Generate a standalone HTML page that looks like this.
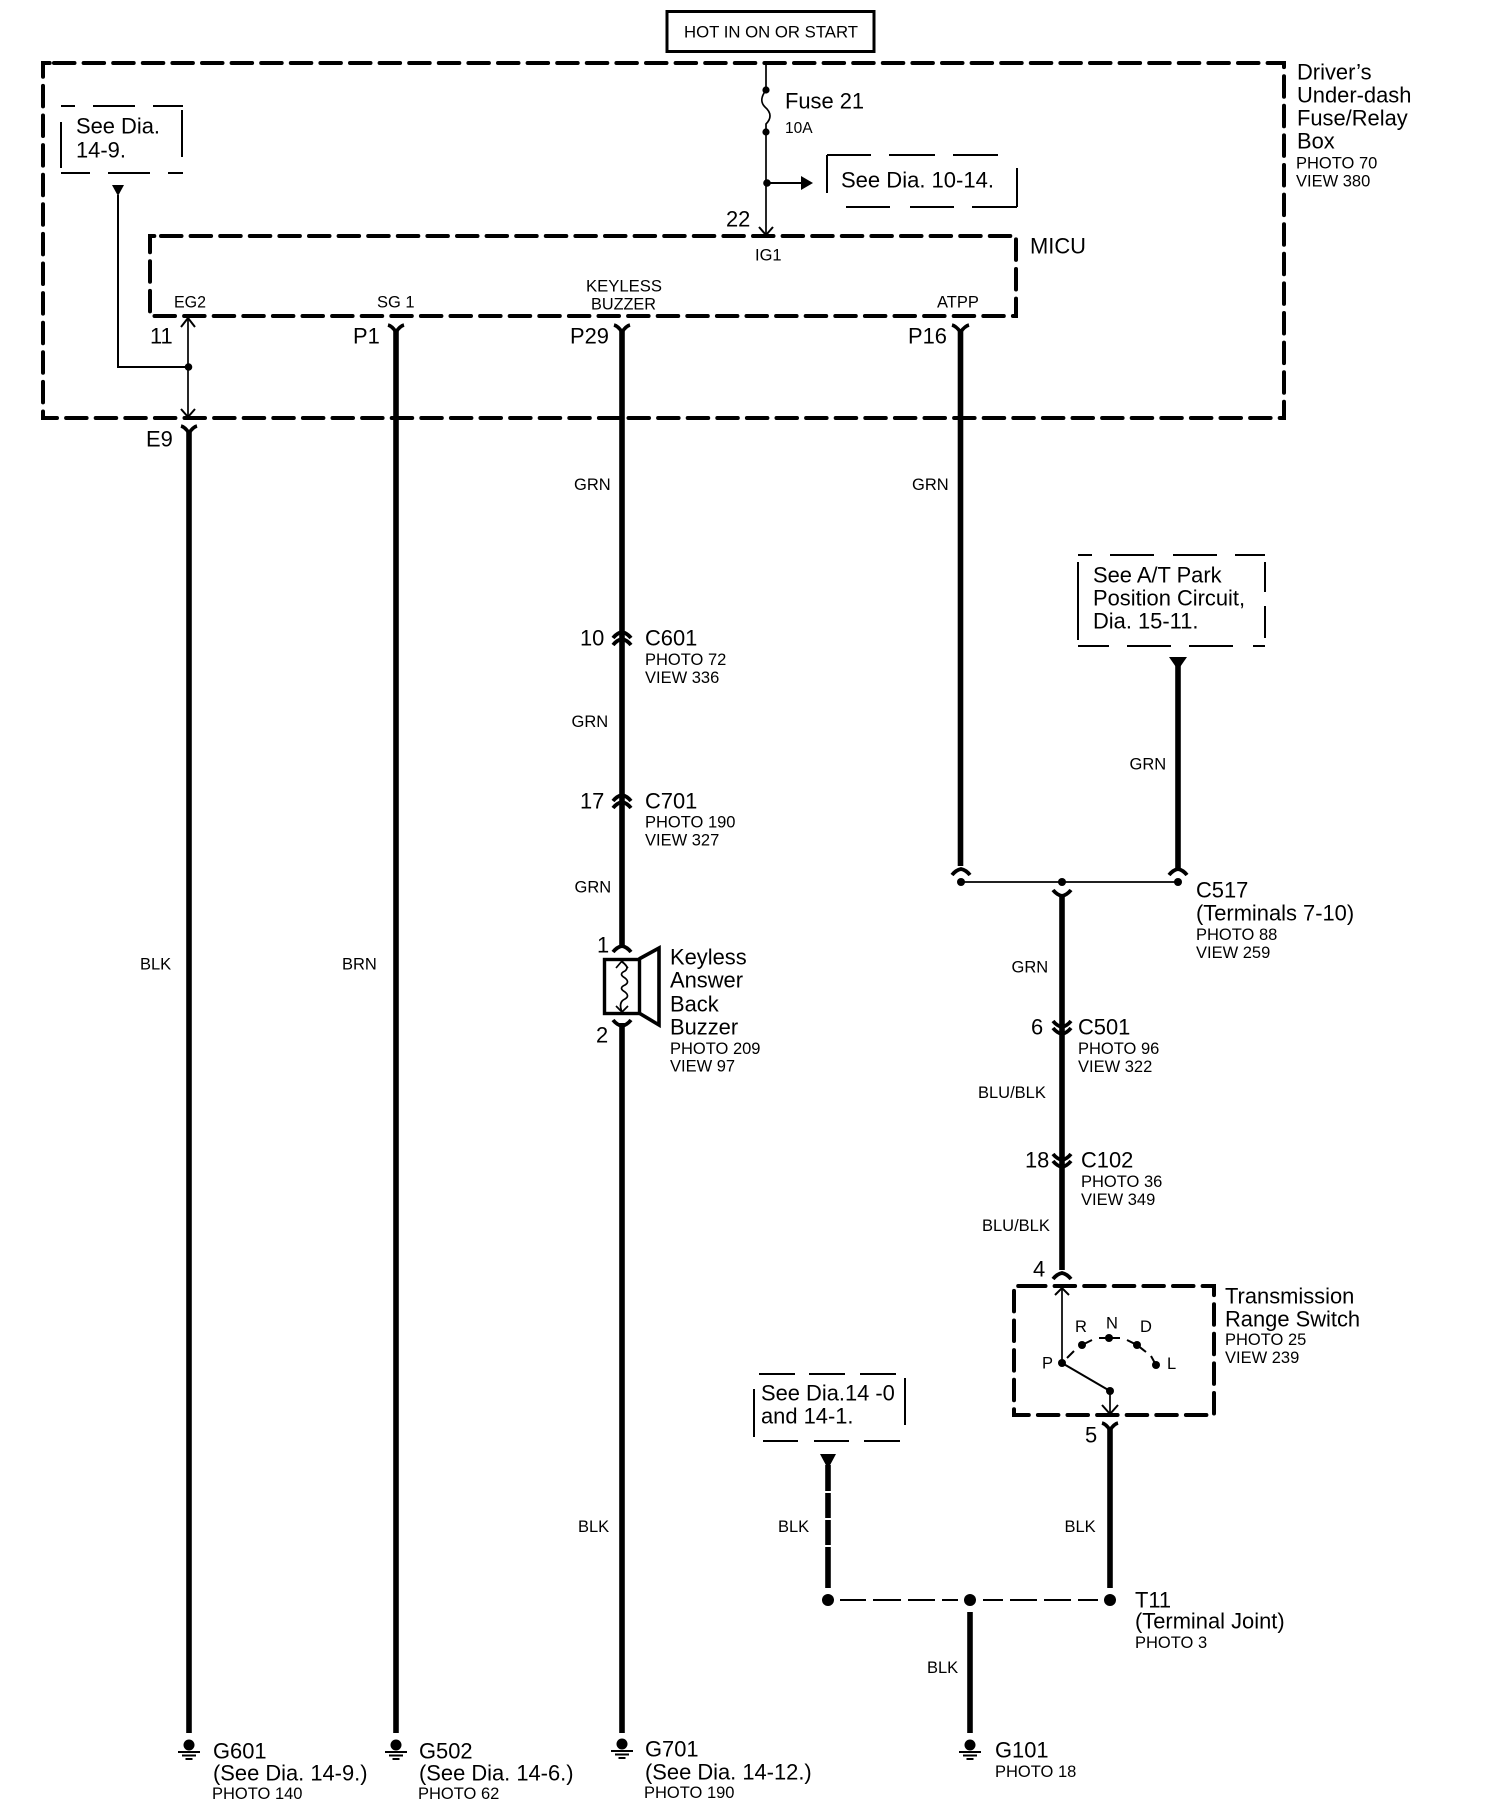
<!DOCTYPE html>
<html><head><meta charset="utf-8"><style>
html,body{margin:0;padding:0;background:#fff}
svg{display:block}
text{font-family:"Liberation Sans",sans-serif;fill:#000}
.l{font-size:21.9px;transform:translateY(.6px)}.s{font-size:16.5px;transform:translateY(.3px)}
.t{stroke:#000;stroke-width:1.7;fill:none}
.b{stroke:#000;stroke-width:2;fill:none}
.w{stroke:#000;stroke-width:5.6;fill:none}
.d{stroke:#000;stroke-width:4;fill:none;stroke-dasharray:20.5 9.1;stroke-linecap:round}
.c{stroke:#000;stroke-width:3.6;fill:none}
.k{stroke:#000;stroke-width:3.8;fill:none}
</style></head><body>
<svg width="1504" height="1816" viewBox="0 0 1504 1816" xmlns="http://www.w3.org/2000/svg">
<rect width="1504" height="1816" fill="#fff"/>
<!-- hot box -->
<rect x="667" y="11.5" width="207" height="40" fill="none" stroke="#000" stroke-width="3"/>
<text class="s" x="684" y="37" textLength="174" lengthAdjust="spacingAndGlyphs">HOT IN ON OR START</text>
<!-- outer box -->
<path class="d" d="M54,63 H1284 V418 H43 V63 H54"/>
<!-- MICU box -->
<path class="d" d="M161,236 H1016 V316 H150 V236 H161"/>
<!-- see boxes -->
<path class="b" d="M61,106H75M93,106H135M153,106H183M61,173H90M108,173H150M168,173H183M61,122V168M182,110V157"/>
<path class="b" d="M827,155H871M889,155H935M953,155H998M846,207H890M910,207H954M972,207H1017M827,155V193M1017,168V207"/>
<path class="b" d="M1078,555H1092M1110,555H1154M1173,555H1217M1235,555H1265M1078,646H1109M1127,646H1171M1189,646H1233M1253,646H1265M1078,562V640M1265,562V592M1265,606V638"/>
<path class="b" d="M759,1374H795M809,1374H845M860,1374H896M763,1441H798M814,1441H849M864,1441H900M754,1389V1437M905,1378V1425"/>
<!-- fuse -->
<path class="t" d="M766,63V90M766,90C760,98 761,103 765,107C772,113 771,119 766,124V236"/>
<circle cx="766" cy="90" r="3.6"/><circle cx="766" cy="132" r="3.6"/><circle cx="767" cy="183" r="3.8"/>
<path class="b" d="M767,183H802"/><path d="M801,176L813,183L801,190Z"/>
<path class="b" d="M759,227L766,235L773,227"/>
<!-- 14-9 feed -->
<path d="M112,185H124L118,196Z"/>
<path class="b" d="M118,195V367"/>
<path class="b" d="M117,367H188" stroke-width="3"/>
<circle cx="188.5" cy="367" r="3.8"/>
<path class="t" d="M188,318V418"/>
<path class="b" d="M181,327L188,318L195,327M181,409L188,417L195,409"/>
<!-- Y caps top -->
<path class="c" d="M181,426Q185,427 189,433Q193,427 197,426"/><path class="w" d="M189,432V1733"/>
<path class="c" d="M388,325Q392,326 396,332Q400,326 404,325"/><path class="w" d="M396,331V1733"/>
<path class="c" d="M614,325Q618,326 622,332Q626,326 630,325"/><path class="w" d="M622,331V945M622,1023V1733"/>
<path class="c" d="M952,325Q956,326 960.5,332Q965,326 969,325"/><path class="w" d="M960.5,331V866"/>
<!-- C601 C701 -->
<path class="k" d="M613,638Q617,633 622,632Q627,633 631,638M613,645Q617,640 622,639Q627,640 631,645"/>
<path class="k" d="M613,801Q617,796 622,795Q627,796 631,801M613,808Q617,803 622,802Q627,803 631,808"/>
<!-- buzzer -->
<path class="k" d="M613,952Q617,947 622,946Q627,947 631,952"/>
<path class="k" d="M613,1020Q617,1025 622,1026Q627,1025 631,1020"/>
<rect x="604.5" y="959.5" width="35" height="54" fill="none" stroke="#000" stroke-width="3.4"/>
<path class="c" d="M639,959L659,948V1025L639,1013"/>
<path class="t" d="M616,968L622,961L628,968M616,1006L622,1012L628,1006"/>
<path class="t" d="M622,962Q630,967 625,971Q618,974 625,978Q630,982 625,985Q618,988 625,992Q630,996 625,999Q618,1002 622,1012"/>
<!-- A/T feed & C517 -->
<path d="M1169,657H1187L1178,670Z"/>
<path class="w" d="M1178,665V868"/>
<path class="k" d="M952,875Q956,870 961,869Q966,870 970,875M1169,875Q1173,870 1178,869Q1183,870 1187,875"/>
<path class="t" d="M961,882H1178"/>
<circle cx="961" cy="882" r="4"/><circle cx="1062" cy="882" r="4"/><circle cx="1178" cy="882" r="4"/>
<path class="k" d="M1053,890Q1057,895 1062,896Q1067,895 1071,890"/>
<path class="w" d="M1062,895V1270"/>
<path class="k" d="M1053,1021Q1057,1026 1062,1027Q1067,1026 1071,1021M1053,1028Q1057,1033 1062,1034Q1067,1033 1071,1028"/>
<path class="k" d="M1053,1154Q1057,1159 1062,1160Q1067,1159 1071,1154M1053,1161Q1057,1166 1062,1167Q1067,1166 1071,1161"/>
<path class="k" d="M1053,1279Q1057,1274 1062,1273Q1067,1274 1071,1279"/>
<!-- transmission range switch -->
<path class="d" d="M1025,1286H1214V1415H1014V1286H1025"/>
<path class="t" d="M1062,1288V1363"/>
<path class="b" d="M1055,1295L1062,1288L1069,1295"/>
<circle cx="1062" cy="1363" r="4"/><circle cx="1082" cy="1345" r="4"/><circle cx="1109" cy="1338" r="4"/><circle cx="1137" cy="1345" r="4"/><circle cx="1156" cy="1365" r="4"/><circle cx="1110" cy="1391" r="4"/>
<path class="b" d="M1067,1358L1074,1351M1082,1345L1092,1340M1099,1338H1120M1127,1340L1137,1345L1146,1352M1151,1356L1156,1365"/>
<path class="b" d="M1062,1363L1110,1391"/>
<path class="t" d="M1110,1391V1414"/>
<path class="b" d="M1102,1405L1110,1414L1118,1405"/>
<path class="c" d="M1102,1423Q1106,1424 1110,1430Q1114,1424 1118,1423"/>
<path class="w" d="M1110,1429V1588"/>
<!-- T11 -->
<path d="M820,1454H836L828,1469Z"/>
<path class="w" d="M828,1465V1491M828,1493V1518M828,1520V1545M828,1547V1588"/>
<path class="b" d="M840,1600H866M873,1600H901M908,1600H935M942,1600H958M983,1600H1003M1010,1600H1037M1044,1600H1071M1078,1600H1098"/>
<circle cx="828" cy="1600" r="6"/><circle cx="970" cy="1600" r="6"/><circle cx="1110" cy="1600" r="6"/>
<path class="w" d="M970,1612V1733"/>
<!-- grounds -->
<circle cx="189" cy="1745" r="5.5"/><path class="b" d="M178,1752H200M182,1755.5H196M185.500,1759H192.500"/>
<circle cx="396" cy="1745" r="5.5"/><path class="b" d="M385,1752H407M389,1755.5H403M392.500,1759H399.500"/>
<circle cx="622" cy="1744" r="5.5"/><path class="b" d="M611,1751H633M615,1754.5H629M618.500,1758H625.500"/>
<circle cx="970" cy="1745" r="5.5"/><path class="b" d="M959,1752H981M963,1755.5H977M966.500,1759H973.500"/>
<!-- text -->
<text class="l" x="76" y="133">See Dia.</text><text class="l" x="76" y="157">14-9.</text>
<text class="l" x="785" y="108">Fuse 21</text><text class="s" x="785" y="132.500" style="font-size:15.500px">10A</text>
<text class="l" x="841" y="187" textLength="153" lengthAdjust="spacingAndGlyphs">See Dia. 10-14.</text>
<text class="l" x="726" y="226">22</text><text class="s" x="755" y="260">IG1</text>
<text class="l" x="1030" y="253">MICU</text>
<text class="l" x="1297" y="79">Driver’s</text><text class="l" x="1297" y="102">Under-dash</text><text class="l" x="1297" y="125">Fuse/Relay</text><text class="l" x="1297" y="148">Box</text>
<text class="s" x="1296" y="168">PHOTO 70</text><text class="s" x="1296" y="186">VIEW 380</text>
<text class="s" x="174" y="307" textLength="32" lengthAdjust="spacingAndGlyphs">EG2</text>
<text class="s" x="377" y="307">SG 1</text>
<text class="s" x="586" y="291" textLength="76" lengthAdjust="spacingAndGlyphs">KEYLESS</text>
<text class="s" x="591" y="309" textLength="65" lengthAdjust="spacingAndGlyphs">BUZZER</text>
<text class="s" x="937" y="307">ATPP</text>
<text class="l" x="150" y="343">11</text><text class="l" x="353" y="343">P1</text><text class="l" x="570" y="343">P29</text><text class="l" x="908" y="343">P16</text><text class="l" x="146" y="446">E9</text>
<text class="s" x="574" y="489.500">GRN</text><text class="s" x="912" y="489.500">GRN</text>
<text class="l" x="580" y="645">10</text><text class="l" x="645" y="645">C601</text><text class="s" x="645" y="664.500">PHOTO 72</text><text class="s" x="645" y="682.500">VIEW 336</text>
<text class="s" x="571.500" y="726.500">GRN</text>
<text class="l" x="580" y="808">17</text><text class="l" x="645" y="808">C701</text><text class="s" x="645" y="827">PHOTO 190</text><text class="s" x="645" y="845">VIEW 327</text>
<text class="s" x="574.500" y="892">GRN</text>
<text class="l" x="597" y="952">1</text><text class="l" x="596" y="1042">2</text>
<text class="l" x="670" y="964">Keyless</text><text class="l" x="670" y="987">Answer</text><text class="l" x="670" y="1011">Back</text><text class="l" x="670" y="1034">Buzzer</text>
<text class="s" x="670" y="1053.500">PHOTO 209</text><text class="s" x="670" y="1071">VIEW 97</text>
<text class="l" x="1093" y="582">See A/T Park</text><text class="l" x="1093" y="605">Position Circuit,</text><text class="l" x="1093" y="628">Dia. 15-11.</text>
<text class="s" x="1129.500" y="769">GRN</text>
<text class="l" x="1196" y="897">C517</text><text class="l" x="1196" y="920">(Terminals 7-10)</text><text class="s" x="1196" y="939.500">PHOTO 88</text><text class="s" x="1196" y="957.500">VIEW 259</text>
<text class="s" x="1011.500" y="972">GRN</text>
<text class="l" x="1031" y="1034">6</text><text class="l" x="1078" y="1034">C501</text><text class="s" x="1078" y="1053.500">PHOTO 96</text><text class="s" x="1078" y="1071.500">VIEW 322</text>
<text class="s" x="978" y="1097.500">BLU/BLK</text>
<text class="l" x="1025" y="1167">18</text><text class="l" x="1081" y="1167">C102</text><text class="s" x="1081" y="1186.500">PHOTO 36</text><text class="s" x="1081" y="1204.500">VIEW 349</text>
<text class="s" x="982" y="1230.500">BLU/BLK</text>
<text class="l" x="1033" y="1276">4</text>
<text class="l" x="1225" y="1303">Transmission</text><text class="l" x="1225" y="1326">Range Switch</text><text class="s" x="1225" y="1344.500">PHOTO 25</text><text class="s" x="1225" y="1362.500">VIEW 239</text>
<text class="s" x="1075" y="1331.500">R</text><text class="s" x="1106" y="1328">N</text><text class="s" x="1140" y="1331.500">D</text><text class="s" x="1042" y="1368">P</text><text class="s" x="1167" y="1368.500">L</text>
<text class="l" x="1085" y="1442">5</text>
<text class="l" x="761" y="1400">See Dia.14 -0</text><text class="l" x="761" y="1423">and 14-1.</text>
<text class="s" x="778" y="1531.500">BLK</text><text class="s" x="1064.500" y="1531.500">BLK</text><text class="s" x="578" y="1531.500">BLK</text>
<text class="s" x="927" y="1672.500">BLK</text>
<text class="s" x="140" y="969">BLK</text><text class="s" x="342" y="969">BRN</text>
<text class="l" x="1135" y="1607">T11</text><text class="l" x="1135" y="1628">(Terminal Joint)</text><text class="s" x="1135" y="1647.500">PHOTO 3</text>
<text class="l" x="995" y="1757">G101</text><text class="s" x="995" y="1776.500">PHOTO 18</text>
<text class="l" x="213" y="1758">G601</text><text class="l" x="213" y="1780">(See Dia. 14-9.)</text><text class="s" x="212" y="1798.500">PHOTO 140</text>
<text class="l" x="419" y="1758">G502</text><text class="l" x="419" y="1780">(See Dia. 14-6.)</text><text class="s" x="418" y="1798.500">PHOTO 62</text>
<text class="l" x="645" y="1756">G701</text><text class="l" x="645" y="1779">(See Dia. 14-12.)</text><text class="s" x="644" y="1797.500">PHOTO 190</text>
</svg>
</body></html>
